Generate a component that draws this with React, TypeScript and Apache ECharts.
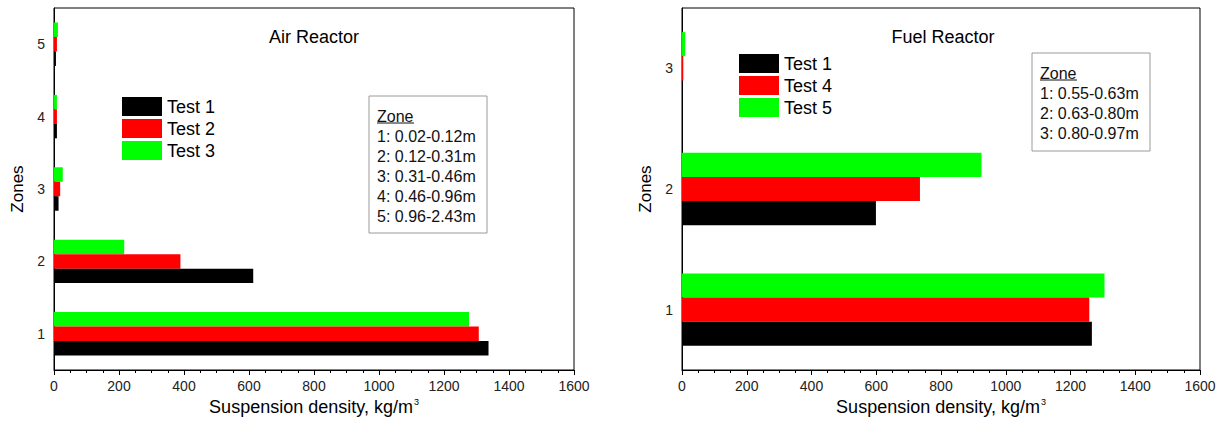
import React, { useEffect, useRef } from "react";
import * as echarts from "echarts";

const airZones = ["1", "2", "3", "4", "5"];
const airTest1 = [1337, 613, 14, 9, 6];
const airTest2 = [1307, 389, 19, 9, 9];
const airTest3 = [1277, 216, 27, 9, 12];

const fuelZones = ["1", "2", "3"];
const fuelTest1 = [1266, 599, 0];
const fuelTest4 = [1258, 735, 4];
const fuelTest5 = [1305, 925, 10];

const xTicks = { min: 0, max: 1600, interval: 200 };

const airZoneLines = ["1: 0.02-0.12m", "2: 0.12-0.31m", "3: 0.31-0.46m", "4: 0.46-0.96m", "5: 0.96-2.43m"];
const fuelZoneLines = ["1: 0.55-0.63m", "2: 0.63-0.80m", "3: 0.80-0.97m"];

const FONT = "Liberation Sans";
const BLACK = "#000000";
const RED = "#ff0000";
const GREEN = "#00ff00";

function zoneBox(x: number, y: number, w: number, h: number, lines: string[]) {
  const els: any[] = [];
  els.push({
    type: "rect",
    shape: { x, y, width: w, height: h },
    style: { fill: "#ffffff", stroke: "#9a9a9a", lineWidth: 1 },
  });
  els.push({
    type: "text",
    x: x + 8,
    y: y + 20,
    style: { text: "Zone", fontSize: 16, fontFamily: FONT, fill: "#111", align: "left", verticalAlign: "middle" },
  });
  els.push({
    type: "line",
    shape: { x1: x + 8, y1: y + 27, x2: x + 45, y2: y + 27 },
    style: { stroke: "#111", lineWidth: 1 },
  });
  lines.forEach((t, i) => {
    els.push({
      type: "text",
      x: x + 8,
      y: y + 40 + i * 20,
      style: { text: t, fontSize: 16, fontFamily: FONT, fill: "#111", align: "left", verticalAlign: "middle" },
    });
  });
  return els;
}

function xAxisFor(gridIndex: number) {
  return {
    type: "value",
    gridIndex,
    min: xTicks.min,
    max: xTicks.max,
    interval: xTicks.interval,
    name: "Suspension density, kg/m{sup|3}",
    nameLocation: "middle",
    nameGap: 27,
    nameTextStyle: {
      fontSize: 18,
      fontFamily: FONT,
      color: "#000",
      rich: { sup: { fontSize: 9, fontFamily: FONT, color: "#000", verticalAlign: "top", padding: [0, 0, 10, 1] } },
    },
    axisLine: { show: true, lineStyle: { color: "#000", width: 1 } },
    axisTick: { show: true, length: 5, lineStyle: { color: "#000" } },
    minorTick: { show: true, splitNumber: 4, length: 3, lineStyle: { color: "#000" } },
    splitLine: { show: false },
    axisLabel: { fontSize: 14, fontFamily: FONT, color: "#222", margin: 9, formatter: (v: number) => String(v) },
  };
}

function yAxisFor(gridIndex: number, data: string[]) {
  return {
    type: "category",
    gridIndex,
    data,
    boundaryGap: true,
    name: "Zones",
    nameLocation: "middle",
    nameGap: 28,
    nameTextStyle: { fontSize: 17, fontFamily: FONT, color: "#000" },
    axisLine: { show: true, lineStyle: { color: "#000", width: 1 } },
    axisTick: { show: false },
    axisLabel: { fontSize: 14, fontFamily: FONT, color: "#222", margin: 9 },
    splitLine: { show: false },
  };
}

function bar(name: string, data: number[], color: string, idx: number) {
  return {
    type: "bar",
    name,
    xAxisIndex: idx,
    yAxisIndex: idx,
    data,
    barGap: "0%",
    barCategoryGap: "40%",
    itemStyle: { color },
  };
}

export default function App() {
  const ref = useRef<HTMLDivElement>(null);
  useEffect(() => {
    document.body.style.margin = "0";
    const chart = echarts.init(ref.current!, null, { renderer: "svg" });
    const legendText = { fontSize: 18, fontFamily: FONT, color: "#000", lineHeight: 19 };
    const legendBase = {
      orient: "vertical",
      icon: "rect",
      itemWidth: 40,
      itemHeight: 19,
      itemGap: 3,
      padding: 0,
      textStyle: legendText,
      selectedMode: false,
    };
    chart.setOption({
      animation: false,
      backgroundColor: "#ffffff",
      textStyle: { fontFamily: FONT },
      grid: [
        { left: 54, right: 1220 - 574, top: 8, bottom: 423 - 370, show: true, borderColor: "#000", borderWidth: 1, backgroundColor: "transparent" },
        { left: 682, right: 1220 - 1200, top: 8, bottom: 423 - 370, show: true, borderColor: "#000", borderWidth: 1, backgroundColor: "transparent" },
      ],
      legend: [
        { ...legendBase, data: ["Test 1", "Test 2", "Test 3"], left: 122, top: 97 },
        { ...legendBase, data: ["Test 1", "Test 4", "Test 5"], left: 739, top: 54 },
      ],
      xAxis: [xAxisFor(0), xAxisFor(1)],
      yAxis: [yAxisFor(0, airZones), yAxisFor(1, fuelZones)],
      series: [
        bar("Test 3", airTest3, GREEN, 0),
        bar("Test 2", airTest2, RED, 0),
        bar("Test 1", airTest1, BLACK, 0),
        bar("Test 5", fuelTest5, GREEN, 1),
        bar("Test 4", fuelTest4, RED, 1),
        bar("Test 1", fuelTest1, BLACK, 1),
      ],
      graphic: [
        {
          type: "text",
          x: 314,
          y: 37,
          style: { text: "Air Reactor", fontSize: 18, fontFamily: FONT, fill: "#000", align: "center", verticalAlign: "middle" },
        },
        {
          type: "text",
          x: 943,
          y: 37,
          style: { text: "Fuel Reactor", fontSize: 18, fontFamily: FONT, fill: "#000", align: "center", verticalAlign: "middle" },
        },
        ...zoneBox(369, 96, 118, 137, airZoneLines),
        ...zoneBox(1032, 53, 118, 98, fuelZoneLines),
      ],
    });
    return () => chart.dispose();
  }, []);
  return <div ref={ref} style={{ width: 1220, height: 423, position: "absolute", left: 0, top: 0 }} />;
}
